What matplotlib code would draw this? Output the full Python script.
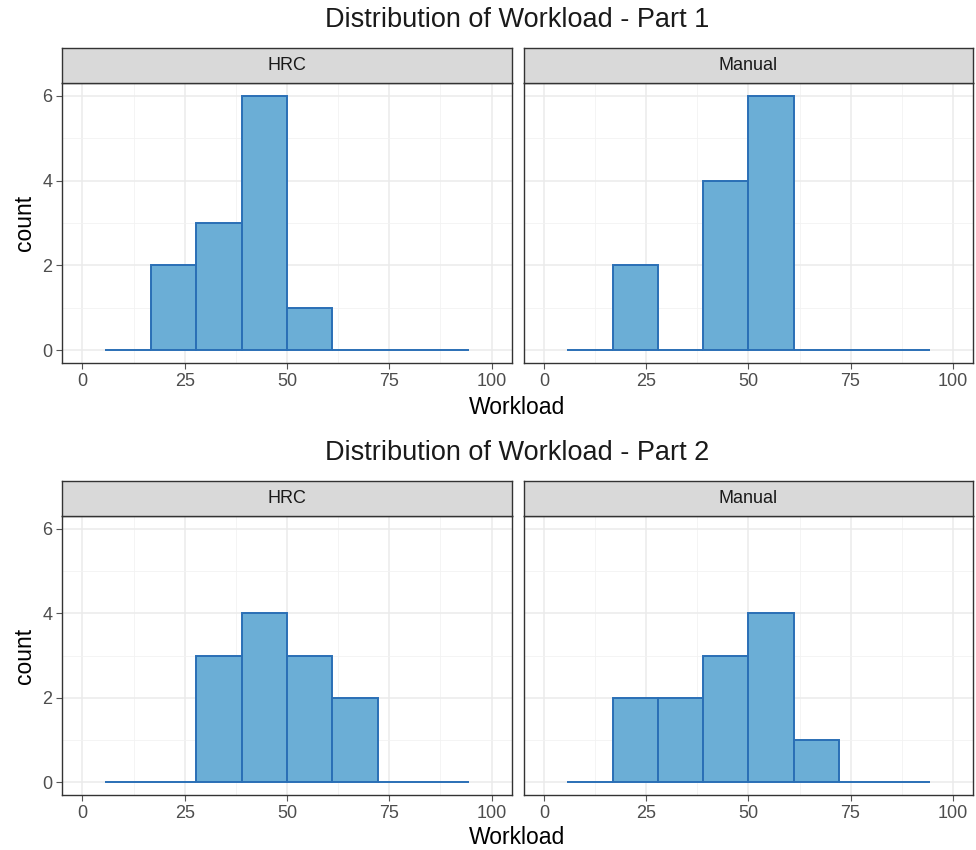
import numpy as np
import matplotlib
matplotlib.use('Agg')
import matplotlib.pyplot as plt
from matplotlib.ticker import MultipleLocator

plt.rcParams['font.family'] = ['Liberation Sans', 'DejaVu Sans']

# histogram bins (Workload) and counts
bin_edges = [5.6, 16.7, 27.8, 38.9, 50.0, 61.1, 72.2, 83.3, 94.4]
groups = ['HRC', 'Manual']
part1_hrc = [0, 2, 3, 6, 1, 0, 0, 0]
part1_manual = [0, 2, 0, 4, 6, 0, 0, 0]
part2_hrc = [0, 0, 3, 4, 3, 2, 0, 0]
part2_manual = [0, 2, 2, 3, 4, 1, 0, 0]
titles = ['Distribution of Workload - Part 1', 'Distribution of Workload - Part 2']
x_ticks = [0, 25, 50, 75, 100]
y_ticks = [0, 2, 4, 6]

W, H = 976, 850
fig = plt.figure(figsize=(W / 100, H / 100), dpi=100)

FILL = '#6baed6'
EDGE = '#2a6fb6'
BORDER = '#333333'


def px_axes(x0, y0, x1, y1):
    # pixel box (top-left origin) -> figure axes
    return fig.add_axes([x0 / W, 1 - y1 / H, (x1 - x0) / W, (y1 - y0) / H])


def draw_panel(box, strip_box, counts, label, show_y):
    ax = px_axes(*box)
    edges = np.array(bin_edges)
    ax.bar(edges[:-1], counts, width=np.diff(edges), align='edge',
           color=FILL, edgecolor=EDGE, linewidth=1.4, zorder=3)
    ax.set_xlim(-5, 105)
    ax.set_ylim(-0.3, 6.3)
    ax.set_xticks(x_ticks)
    ax.set_yticks(y_ticks)
    ax.xaxis.set_minor_locator(MultipleLocator(12.5))
    ax.yaxis.set_minor_locator(MultipleLocator(1))
    ax.grid(which='major', color='#ebebeb', linewidth=1.1, zorder=0)
    ax.grid(which='minor', color='#f2f2f2', linewidth=0.6, zorder=0)
    ax.set_axisbelow(True)
    ax.tick_params(which='major', length=4, color='#555555', labelcolor='#4d4d4d',
                   labelsize=13, pad=3)
    ax.tick_params(which='minor', length=0)
    if not show_y:
        ax.tick_params(axis='y', labelleft=False, length=0)
    for s in ax.spines.values():
        s.set_color(BORDER)
        s.set_linewidth(1.0)

    st = px_axes(*strip_box)
    st.set_facecolor('#d9d9d9')
    st.set_xticks([])
    st.set_yticks([])
    for s in st.spines.values():
        s.set_color(BORDER)
        s.set_linewidth(1.0)
    st.text(0.5, 0.5, label, ha='center', va='center', fontsize=13,
            color='#1a1a1a', transform=st.transAxes)
    return ax


rows = [
    dict(strip=(48, 83), panel=(83, 363), title_y=20, xlab_y=408, data=[part1_hrc, part1_manual]),
    dict(strip=(481, 516), panel=(516, 795), title_y=453, xlab_y=838, data=[part2_hrc, part2_manual]),
]
cols = [(62, 512), (524, 973)]

for r, row in enumerate(rows):
    for c, (x0, x1) in enumerate(cols):
        draw_panel((x0, row['panel'][0], x1, row['panel'][1]),
                   (x0, row['strip'][0], x1, row['strip'][1]),
                   row['data'][c], groups[c], show_y=(c == 0))
    fig.text(517 / W, 1 - row['title_y'] / H, titles[r], ha='center', va='center',
             fontsize=19.5, color='#1a1a1a')
    fig.text(517 / W, 1 - row['xlab_y'] / H, 'Workload', ha='center', va='center',
             fontsize=16.5, color='black')
    yc = (row['panel'][0] + row['panel'][1]) / 2
    fig.text(24 / W, 1 - yc / H, 'count', ha='center', va='center', rotation=90,
             fontsize=16.5, color='black')

fig.savefig('out.png', dpi=100)
